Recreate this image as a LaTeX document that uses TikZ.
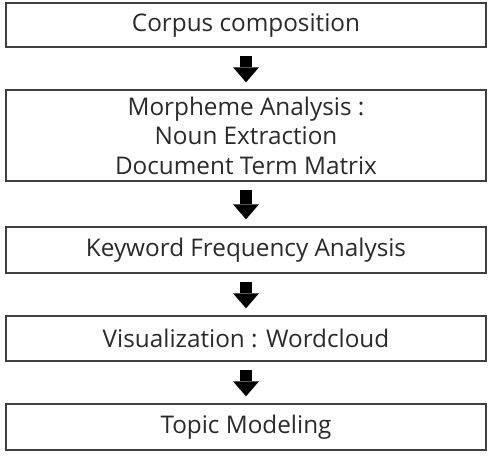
\documentclass[tikz,border=0pt]{standalone}
\usepackage{fontspec}
\setmainfont{Open Sans}
\usetikzlibrary{arrows.meta}
\definecolor{boxline}{HTML}{404040}
\definecolor{boxtext}{HTML}{2A2A2A}
\tikzset{
  stage/.style={draw=boxline, line width=1.4pt, minimum width=480pt, inner sep=0pt,
    align=center, text=boxtext, font=\fontsize{24.3}{29.5}\selectfont},
  flowarrow/.style={line width=12pt, black,
    -{Triangle[length=15pt,width=26pt,line width=0pt]}, shorten <=8pt, shorten >=7pt}
}
\begin{document}
\begin{tikzpicture}[x=1pt,y=-1pt]
\useasboundingbox (0,0) rectangle (489,456);
\node[stage, minimum height=44pt] (corpus) at (246,25) {Corpus composition};
\node[stage, minimum height=91pt] (morph) at (246,135.5) {Morpheme Analysis :\\Noun Extraction\\Document Term Matrix};
\node[stage, minimum height=46pt] (freq) at (246,250) {Keyword Frequency Analysis};
\node[stage, minimum height=45pt] (vis) at (246,338.5) {Visualization : Wordcloud};
\node[stage, minimum height=46pt] (topic) at (246,427) {Topic Modeling};
\draw[flowarrow] (corpus) -- (morph);
\draw[flowarrow] (morph) -- (freq);
\draw[flowarrow] (freq) -- (vis);
\draw[flowarrow] (vis) -- (topic);
\end{tikzpicture}
\end{document}
